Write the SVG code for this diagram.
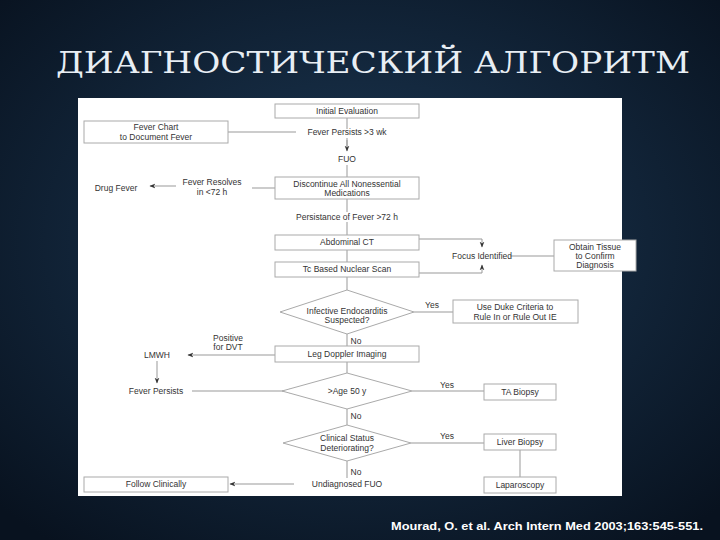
<svg xmlns="http://www.w3.org/2000/svg" width="720" height="540" viewBox="0 0 720 540">
<defs>
<radialGradient id="bg" cx="50%" cy="45%" r="70%">
<stop offset="0" stop-color="#1d3a57"/><stop offset="1" stop-color="#08121f"/>
</radialGradient>
<marker id="ar" viewBox="0 0 10 10" refX="9" refY="5" markerWidth="6" markerHeight="6" orient="auto-start-reverse">
<path d="M0,1 L10,5 L0,9 L3,5 Z" fill="#333"/>
</marker>
<style>
.b{fill:#fff;stroke:#aaa;stroke-width:1}
.t{font-family:"Liberation Sans",Arial,sans-serif;font-size:8.5px;fill:#333;text-anchor:middle}
.l{fill:none;stroke:#999;stroke-width:1}
.a{fill:none;stroke:#999;stroke-width:1;marker-end:url(#ar)}
</style>
</defs>
<rect width="720" height="540" fill="url(#bg)"/>
<text x="56" y="73" font-family="'DejaVu Serif','Liberation Serif',serif" font-size="30" fill="#e8eef4" textLength="634" lengthAdjust="spacingAndGlyphs">ДИАГНОСТИЧЕСКИЙ АЛГОРИТМ</text>
<rect x="78" y="98" width="544" height="398" fill="#fff"/>
<g id="connectors">
<path class="l" d="M347,118 V129 M228,132 H296 M347,138 V147"/>
<path class="a" d="M347,140 V151"/>
<path class="l" d="M347,165 V177 M275,188 H252"/>
<path class="a" d="M176,186 H150"/>
<path class="l" d="M347,199 V212 M347,222 V235 M347,250 V262 M347,277 V290"/>
<path class="l" d="M419,239 H482 M419,273 H482 M510,256 H554"/>
<path class="a" d="M482,239 V247"/>
<path class="a" d="M482,273 V265"/>
<path class="l" d="M414,312 H453 M347,334 V346 M347,362 V373"/>
<path class="a" d="M275,355 H188"/>
<path class="a" d="M157,361 V383"/>
<path class="a" d="M192,391 H294"/>
<path class="l" d="M412,391 H484 M347,409 V425 M411,443 H484 M520,450 V477 M347,461 V478"/>
<path class="a" d="M294,484 H230"/>
</g>
<g id="n-initial"><rect class="b" x="275" y="104" width="144" height="14"/><text class="t" x="347" y="114">Initial Evaluation</text></g>
<g id="n-chart"><rect class="b" x="84" y="121" width="144" height="22"/><text class="t" x="156" y="130">Fever Chart</text><text class="t" x="156" y="140">to Document Fever</text></g>
<g id="n-persist"><text class="t" x="347" y="135">Fever Persists &gt;3 wk</text></g>
<g id="n-fuo"><text class="t" x="347" y="162">FUO</text></g>
<g id="n-disc"><rect class="b" x="275" y="177" width="144" height="22"/><text class="t" x="347" y="187">Discontinue All Nonessential</text><text class="t" x="347" y="196">Medications</text></g>
<g id="n-resolves"><text class="t" x="212" y="185">Fever Resolves</text><text class="t" x="212" y="195">in &lt;72 h</text></g>
<g id="n-drug"><text class="t" x="116" y="191">Drug Fever</text></g>
<g id="n-pers72"><text class="t" x="347" y="220">Persistance of Fever &gt;72 h</text></g>
<g id="n-ct"><rect class="b" x="275" y="235" width="144" height="15"/><text class="t" x="347" y="245">Abdominal CT</text></g>
<g id="n-tc"><rect class="b" x="275" y="262" width="144" height="15"/><text class="t" x="347" y="272">Tc Based Nuclear Scan</text></g>
<g id="n-focus"><text class="t" x="482" y="259">Focus Identified</text></g>
<g id="n-tissue"><rect class="b" x="554" y="240" width="82" height="31"/><text class="t" x="595" y="250">Obtain Tissue</text><text class="t" x="595" y="259">to Confirm</text><text class="t" x="595" y="268">Diagnosis</text></g>
<g id="n-ie"><polygon class="b" points="347,290 414,312 347,334 280,312"/><text class="t" x="347" y="314">Infective Endocarditis</text><text class="t" x="347" y="323">Suspected?</text></g>
<g id="n-duke"><rect class="b" x="453" y="300" width="125" height="23"/><text class="t" x="515" y="310">Use Duke Criteria to</text><text class="t" x="515" y="320">Rule In or Rule Out IE</text></g>
<text class="t" x="432" y="308">Yes</text><text class="t" x="356" y="344">No</text>
<g id="n-doppler"><rect class="b" x="275" y="346" width="144" height="16"/><text class="t" x="347" y="357">Leg Doppler Imaging</text></g>
<g id="n-dvt"><text class="t" x="228" y="341">Positive</text><text class="t" x="228" y="350">for DVT</text></g>
<g id="n-lmwh"><text class="t" x="157" y="358">LMWH</text></g>
<g id="n-fp2"><text class="t" x="156" y="394">Fever Persists</text></g>
<g id="n-age"><polygon class="b" points="347,373 412,391 347,409 282,391"/><text class="t" x="347" y="394">&gt;Age 50 y</text></g>
<text class="t" x="447" y="388">Yes</text><text class="t" x="356" y="419">No</text>
<g id="n-ta"><rect class="b" x="484" y="384" width="72" height="16"/><text class="t" x="520" y="395">TA Biopsy</text></g>
<g id="n-clin"><polygon class="b" points="347,425 411,443 347,461 283,443"/><text class="t" x="347" y="441">Clinical Status</text><text class="t" x="347" y="451">Deteriorating?</text></g>
<text class="t" x="447" y="439">Yes</text><text class="t" x="356" y="475">No</text>
<g id="n-liver"><rect class="b" x="484" y="434" width="72" height="16"/><text class="t" x="520" y="445">Liver Biopsy</text></g>
<g id="n-lap"><rect class="b" x="484" y="477" width="72" height="16"/><text class="t" x="520" y="488">Laparoscopy</text></g>
<g id="n-undiag"><text class="t" x="347" y="487">Undiagnosed FUO</text></g>
<g id="n-follow"><rect class="b" x="84" y="477" width="144" height="15"/><text class="t" x="156" y="487">Follow Clinically</text></g>
<text x="391" y="530" font-family="'Liberation Sans',Arial,sans-serif" font-size="10" font-weight="bold" fill="#fff" textLength="312" lengthAdjust="spacingAndGlyphs">Mourad, O. et al. Arch Intern Med 2003;163:545-551.</text>
</svg>
